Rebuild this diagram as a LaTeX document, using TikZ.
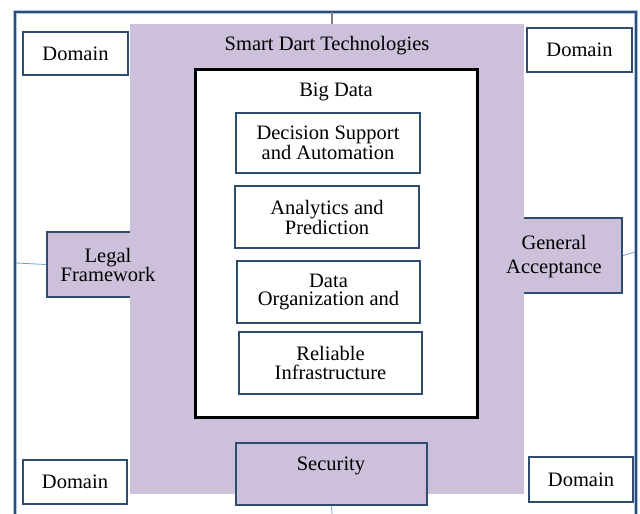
\documentclass[tikz,border=0pt]{standalone}
\usepackage{fontspec}
\setmainfont{Liberation Serif}
\newfontfamily\tnr{Liberation Serif}

\definecolor{lav}{HTML}{CCC0DA}
\definecolor{navy}{HTML}{2E4B70}
\definecolor{skyline}{HTML}{6E9FD3}
\definecolor{halo}{HTML}{A9C4E4}
\definecolor{stub}{HTML}{7F7F7F}

\tikzset{
  box/.style={draw=navy, line width=2.6pt, fill=white, inner sep=0pt, align=center},
  pbox/.style={box, fill=lav},
  lbl/.style={inner sep=0pt, align=center, font=\tnr\fontsize{20.5}{20}\selectfont},
  link/.style={draw=skyline, line width=0.8pt},
}

\begin{document}
\begin{tikzpicture}[x=1pt,y=-1pt]
  \useasboundingbox (0,0) rectangle (640,514);

  % outer domain frame (open below the page edge)
  \draw[halo, line width=3.6pt] (15,12) rectangle (636,540);
  \draw[navy, line width=2pt] (15,12) rectangle (636,540);
  \coordinate (frameT) at (332,12);
  \coordinate (frameL) at (16,263);
  \coordinate (frameR) at (635,252);
  \coordinate (frameB) at (333,530);

  % side boxes partly covered by the technology band
  \node[pbox, minimum width=124pt, minimum height=65pt] (legal) at (109,264.5) {};
  \node[pbox, minimum width=134pt, minimum height=75pt] (general) at (555,255.5) {};

  % technology band
  \node[fill=lav, inner sep=0pt, minimum width=394pt, minimum height=470pt] (sdt) at (327,259) {};

  % big data frame
  \node[draw=black, line width=3pt, fill=white, minimum width=282pt, minimum height=348pt, inner sep=0pt] (bigdata) at (336,243) {};

  % inner layers
  \node[box, minimum width=184pt, minimum height=60pt, lbl, font=\tnr\fontsize{20.5}{18.5}\selectfont] (dsa) at (328,143)
    {Decision Support\\and Automation};
  \node[box, minimum width=184pt, minimum height=62pt, lbl, font=\tnr\fontsize{20.5}{20}\selectfont] (anp) at (327,217)
    {Analytics and\\Prediction};
  \node[box, minimum width=183pt, minimum height=62pt, lbl, font=\tnr\fontsize{20.5}{18.5}\selectfont] (dor) at (328.5,292)
    {Data\\Organization and};
  \node[box, minimum width=183pt, minimum height=62pt, lbl, font=\tnr\fontsize{20.5}{18.5}\selectfont] (rin) at (330.5,363)
    {Reliable\\Infrastructure};

  % security box
  \node[pbox, minimum width=191pt, minimum height=62pt] (security) at (331.5,474) {};

  % domain corners
  \node[box, minimum width=105pt, minimum height=43pt, lbl] (domTL) at (75.5,53.5) {Domain};
  \node[box, minimum width=105pt, minimum height=44pt, lbl] (domTR) at (579.5,50) {Domain};
  \node[box, minimum width=104pt, minimum height=44pt, lbl] (domBL) at (75,482) {Domain};
  \node[box, minimum width=104pt, minimum height=45pt, lbl] (domBR) at (581,479.5) {Domain};

  % captions
  \node[lbl] (sdtT) at (327,46) {Smart Dart Technologies};
  \node[lbl] (bdT) at (336,92) {Big Data};
  \node[lbl, font=\tnr\fontsize{20.5}{19}\selectfont] (legalT) at (108,264.5) {Legal\\Framework};
  \node[lbl, font=\tnr\fontsize{20.5}{24}\selectfont] (generalT) at (554,257) {General\\Acceptance};
  \node[lbl] (securityT) at (331,466) {Security};

  % links to the frame
  \draw[stub, line width=1.4pt] (frameT) -- (frameT |- sdt.north);
  \draw[link] (frameL) -- (legal.west);
  \draw[link] (general.east) -- (frameR);
  \draw[link] (security.south) -- (frameB);
\end{tikzpicture}
\end{document}
